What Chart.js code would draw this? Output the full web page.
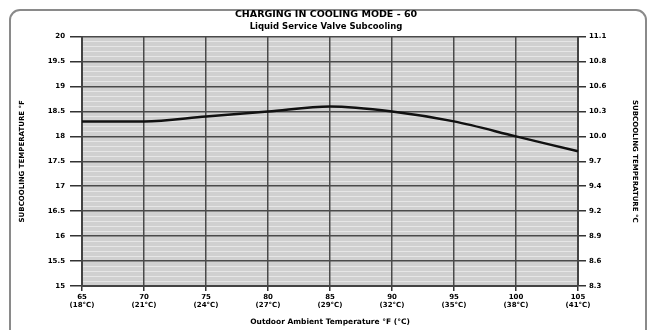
<!DOCTYPE html>
<html>
<head>
<meta charset="utf-8">
<script src="https://cdn.jsdelivr.net/npm/chart.js@4/dist/chart.umd.min.js"></script>
<style>
    html, body { margin: 0; padding: 0; background: #fff; }
    #wrap { width: 652px; height: 330px; position: relative; }
</style>
</head>
<body>
<div id="wrap"><canvas id="subcoolChart" width="652" height="330"></canvas></div>
<script>
// Outdoor ambient temperature categories
const outdoorF = ['65', '70', '75', '80', '85', '90', '95', '100', '105'];
const outdoorC = ['(18°C)', '(21°C)', '(24°C)', '(27°C)', '(29°C)', '(32°C)', '(35°C)', '(38°C)', '(41°C)'];

// Liquid service valve subcooling, °F
const subcooling = [18.3, 18.3, 18.4, 18.5, 18.6, 18.5, 18.3, 18.0, 17.7];

// Axis ticks (°F on the left, same positions in °C on the right)
const ticksF = ['15', '15.5', '16', '16.5', '17', '17.5', '18', '18.5', '19', '19.5', '20'];
const ticksC = ['8.3', '8.6', '8.9', '9.2', '9.4', '9.7', '10.0', '10.3', '10.6', '10.8', '11.1'];

(function() {
    'use strict';

    const FONT = "'DejaVu Sans', Arial, sans-serif";
    const yMin = 15, yMax = 20;

    function tickIndex(v) {
        const i = Math.round((v - yMin) * 2);
        return Math.abs((v - yMin) * 2 - i) < 1e-6 ? i : -1;
    }

    // background of plot area and outer rounded frame
    const framePlugin = {
        id: 'frame',
        beforeDraw(chart) {
            const { ctx, chartArea: a } = chart;
            ctx.save();
            ctx.fillStyle = '#d0d0d0';
            ctx.fillRect(a.left, a.top, a.right - a.left, a.bottom - a.top);
            ctx.strokeStyle = '#8a8a8a';
            ctx.lineWidth = 2;
            ctx.beginPath();
            ctx.roundRect(10, 10, 636, 340, 10);
            ctx.stroke();
            ctx.restore();
        }
    };

    new Chart(document.getElementById('subcoolChart'), {
        type: 'line',
        data: {
            labels: outdoorF.map((f, i) => [f, outdoorC[i]]),
            datasets: [{
                data: subcooling,
                borderColor: '#111',
                borderWidth: 2.5,
                pointRadius: 0,
                cubicInterpolationMode: 'monotone',
                yAxisID: 'y'
            }]
        },
        options: {
            responsive: false,
            animation: false,
            devicePixelRatio: 1,
            layout: { padding: 0 },
            plugins: {
                legend: { display: false },
                tooltip: { enabled: false },
                title: {
                    display: true,
                    text: 'CHARGING IN COOLING MODE - 60',
                    color: '#000',
                    font: { family: FONT, size: 9.5, weight: 'bold' },
                    padding: { top: 9, bottom: 1 }
                },
                subtitle: {
                    display: true,
                    text: 'Liquid Service Valve Subcooling',
                    color: '#000',
                    font: { family: FONT, size: 8.5, weight: 'bold' },
                    padding: { top: 0, bottom: 5 }
                }
            },
            scales: {
                x: {
                    type: 'category',
                    offset: false,
                    afterFit(scale) { scale.height = 44; },
                    grid: { color: '#4a4a4a', lineWidth: 1.5, tickLength: 5, tickColor: '#333', z: -1 },
                    border: { color: '#444', width: 2 },
                    ticks: {
                        color: '#000',
                        padding: 2,
                        autoSkip: false,
                        maxRotation: 0,
                        font: { family: FONT, size: 7, weight: 'bold', lineHeight: 1.15 }
                    },
                    title: {
                        display: true,
                        text: 'Outdoor Ambient Temperature °F (°C)',
                        color: '#000',
                        font: { family: FONT, size: 7.5, weight: 'bold' },
                        padding: { top: 0, bottom: 3 }
                    }
                },
                y: {
                    position: 'left',
                    min: yMin,
                    max: yMax,
                    afterFit(scale) { scale.width = 82; },
                    grid: {
                        z: -2,
                        color: (c) => c.tick && tickIndex(c.tick.value) >= 0 ? '#4a4a4a' : '#e6e6e6',
                        lineWidth: (c) => c.tick && tickIndex(c.tick.value) >= 0 ? 1.5 : 1,
                        tickColor: (c) => c.tick && tickIndex(c.tick.value) >= 0 ? '#333' : 'rgba(0,0,0,0)',
                        tickLength: 12
                    },
                    border: { color: '#444', width: 2 },
                    ticks: {
                        stepSize: 0.1,
                        autoSkip: false,
                        padding: 5,
                        color: '#000',
                        font: { family: FONT, size: 7, weight: 'bold' },
                        callback: (v) => {
                            const i = tickIndex(v);
                            return i >= 0 ? ticksF[i] : '';
                        }
                    },
                    title: {
                        display: true,
                        text: 'SUBCOOLING TEMPERATURE °F',
                        color: '#000',
                        font: { family: FONT, size: 7, weight: 'bold' },
                        padding: { top: 18, bottom: 0 }
                    }
                },
                y2: {
                    position: 'right',
                    min: yMin,
                    max: yMax,
                    afterFit(scale) { scale.width = 74; },
                    grid: { drawOnChartArea: false, tickLength: 8, tickColor: '#333', lineWidth: 1.5 },
                    border: { color: '#444', width: 2 },
                    ticks: {
                        stepSize: 0.5,
                        autoSkip: false,
                        padding: 3,
                        color: '#000',
                        font: { family: FONT, size: 7, weight: 'bold' },
                        callback: (v) => {
                            const i = tickIndex(v);
                            return i >= 0 ? ticksC[i] : '';
                        }
                    },
                    title: {
                        display: true,
                        text: 'SUBCOOLING TEMPERATURE °C',
                        color: '#000',
                        font: { family: FONT, size: 7, weight: 'bold' },
                        padding: { top: 13, bottom: 0 }
                    }
                }
            }
        },
        plugins: [framePlugin]
    });
})();
</script>
</body>
</html>
